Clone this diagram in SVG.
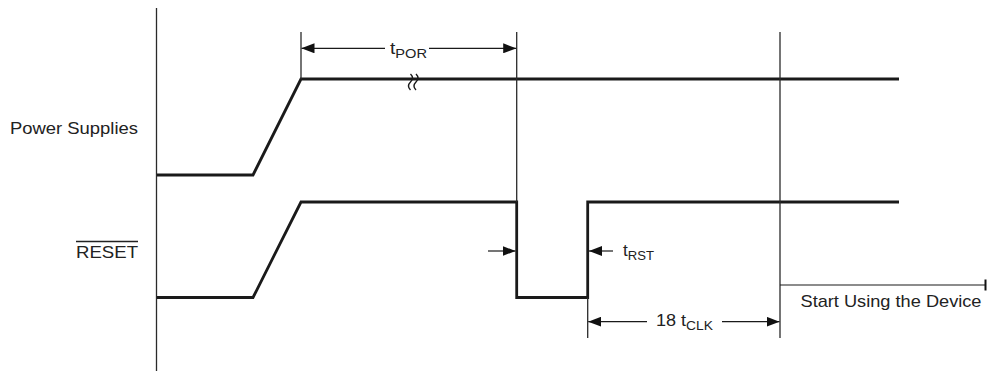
<svg xmlns="http://www.w3.org/2000/svg" width="987" height="371" viewBox="0 0 987 371">
  <style>
    .sig { fill: none; stroke: #1a1a1a; stroke-width: 2.8; stroke-linejoin: miter; }
    .thin { fill: none; stroke: #2a2a2a; stroke-width: 1.3; }
    .dim { fill: none; stroke: #1a1a1a; stroke-width: 1.2; }
    .lbl { font-family: "Liberation Sans", Arial, sans-serif; font-size: 17px; fill: #222; }
    .sub { font-size: 13px; }
  </style>
  <defs>
    <marker id="ah" viewBox="0 0 13 10" refX="13" refY="5" markerWidth="13" markerHeight="10" markerUnits="userSpaceOnUse" orient="auto-start-reverse">
      <path d="M0,0 L13,5 L0,10 Z" fill="#111"/>
    </marker>
  </defs>
  <rect width="987" height="371" fill="#fff"/>

  <g id="axis">
    <line class="thin" x1="156.5" y1="8" x2="156.5" y2="371"/>
  </g>

  <g id="label-power">
    <text class="lbl" x="10" y="133.5" textLength="128" lengthAdjust="spacingAndGlyphs">Power Supplies</text>
  </g>
  <g id="label-reset">
    <text class="lbl" x="76" y="258" textLength="62" lengthAdjust="spacingAndGlyphs">RESET</text>
    <line x1="76" y1="241.5" x2="138" y2="241.5" stroke="#222" stroke-width="1.3"/>
  </g>

  <g id="power-signal">
    <polyline class="sig" points="157,175 253,175 301,79 899,79"/>
    <path d="M410.5,74 q4,4 0,8 q-4,4 0,8 M416,74 q4,4 0,8 q-4,4 0,8" fill="none" stroke="#1a1a1a" stroke-width="1.4"/>
  </g>

  <g id="reset-signal">
    <polyline class="sig" points="157,297.5 253,297.5 301,202 516.7,202 516.7,297.5 587.7,297.5 587.7,202 899,202"/>
  </g>

  <g id="connectors">
    <line class="thin" x1="301" y1="32" x2="301" y2="79"/>
    <line class="thin" x1="516.7" y1="32" x2="516.7" y2="202"/>
    <line class="thin" x1="587.7" y1="297.5" x2="587.7" y2="338"/>
    <line class="thin" x1="780" y1="32" x2="780" y2="338"/>
    <line class="dim" x1="301.5" y1="48.3" x2="385" y2="48.3" marker-start="url(#ah)"/>
    <line class="dim" x1="429" y1="48.3" x2="516.2" y2="48.3" marker-end="url(#ah)"/>
    <line class="dim" x1="488" y1="251" x2="515.5" y2="251" marker-end="url(#ah)"/>
    <line class="dim" x1="613" y1="251" x2="589" y2="251" marker-end="url(#ah)"/>
    <line class="dim" x1="588.2" y1="321.7" x2="647" y2="321.7" marker-start="url(#ah)"/>
    <line class="dim" x1="722" y1="321.7" x2="779.5" y2="321.7" marker-end="url(#ah)"/>
    <line class="dim" x1="780" y1="285" x2="986" y2="285"/>
    <line x1="985.5" y1="279.5" x2="985.5" y2="290.5" stroke="#111" stroke-width="2"/>
  </g>

  <g id="label-tpor">
    <text class="lbl" x="390" y="53.5" textLength="37" lengthAdjust="spacingAndGlyphs">t<tspan class="sub" dy="4">POR</tspan></text>
  </g>
  <g id="label-trst">
    <text class="lbl" x="623" y="255.5" textLength="31" lengthAdjust="spacingAndGlyphs">t<tspan class="sub" dy="4">RST</tspan></text>
  </g>
  <g id="label-tclk">
    <text class="lbl" x="656" y="325.5" textLength="57" lengthAdjust="spacingAndGlyphs">18 t<tspan class="sub" dy="4">CLK</tspan></text>
  </g>
  <g id="label-start">
    <text class="lbl" x="800.5" y="307" textLength="181" lengthAdjust="spacingAndGlyphs">Start Using the Device</text>
  </g>
</svg>
